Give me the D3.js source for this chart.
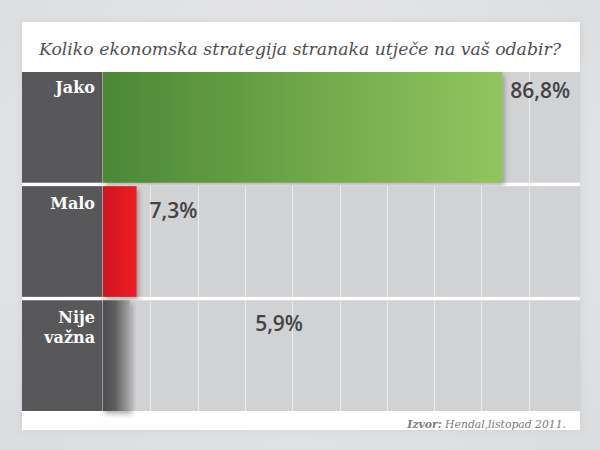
<!DOCTYPE html>
<html>
<head>
<meta charset="utf-8">
<script src="https://cdn.jsdelivr.net/npm/d3@7"></script>
<style>
  body { margin: 0; background: #e4e5e6; }
  svg { display: block; }
</style>
</head>
<body>
<script>
// data
var categories = ["Jako", "Malo", "Nije važna"];
var values = [86.8, 7.3, 5.9];
var valueLabels = ["86,8%", "7,3%", "5,9%"];
var gridTicks = [1, 2, 3, 4, 5, 6, 7, 8, 9];
var title = "Koliko ekonomska strategija stranaka utječe na vaš odabir?";

// label nudges (layout only)
var labelDx = [8, 13, 125];
var labelDy = [26, 32, 31];

var svg = d3.select("body").append("svg")
  .attr("width", 600)
  .attr("height", 450);

var defs = svg.append("defs");

var bg = defs.append("radialGradient").attr("id", "bg")
  .attr("cx", "50%").attr("cy", "45%").attr("r", "70%");
bg.append("stop").attr("offset", "0%").attr("stop-color", "#eeeeef");
bg.append("stop").attr("offset", "100%").attr("stop-color", "#dcdddf");

var grads = [
  ["g0", [["0%", "#4b8834"], ["100%", "#92c55f"]]],
  ["g1", [["0%", "#cf161e"], ["100%", "#ee1d26"]]],
  ["g2", [["0%", "#4d4d4f"], ["45%", "#5f5f61"], ["100%", "#a9a9ab"]]]
];
grads.forEach(function(g){
  var lg = defs.append("linearGradient").attr("id", g[0])
    .attr("x1", "0%").attr("x2", "100%").attr("y1", "0%").attr("y2", "0%");
  g[1].forEach(function(s){
    lg.append("stop").attr("offset", s[0]).attr("stop-color", s[1]);
  });
});

var sh = defs.append("filter").attr("id", "shadow")
  .attr("x", "-10%").attr("y", "-10%").attr("width", "130%").attr("height", "130%");
sh.append("feDropShadow").attr("dx", 2).attr("dy", 3)
  .attr("stdDeviation", 2.5).attr("flood-color", "#000").attr("flood-opacity", 0.3);

var psh = defs.append("filter").attr("id", "pshadow")
  .attr("x", "-5%").attr("y", "-5%").attr("width", "110%").attr("height", "110%");
psh.append("feDropShadow").attr("dx", 0).attr("dy", 0)
  .attr("stdDeviation", 4).attr("flood-color", "#000").attr("flood-opacity", 0.08);

svg.append("rect").attr("width", 600).attr("height", 450).attr("fill", "url(#bg)");

// white panel
svg.append("rect")
  .attr("x", 22).attr("y", 22).attr("width", 558).attr("height", 408)
  .attr("fill", "#ffffff").attr("filter", "url(#pshadow)");

svg.append("text")
  .attr("x", 300).attr("y", 55)
  .attr("text-anchor", "middle")
  .style("font-family", "DejaVu Serif")
  .style("font-style", "italic")
  .style("font-size", "17.3px")
  .style("fill", "#4f4f51")
  .text(title);

var y = d3.scaleBand()
  .domain(categories)
  .range([72, 411])
  .paddingInner(0.03);

var x = d3.scaleLinear().domain([0, 100]).range([103, 563]);
var grid = d3.scaleLinear().domain([0, 10]).range([103, 576]);

var rows = svg.selectAll(".row")
  .data(categories)
  .enter().append("g")
  .attr("class", "row")
  .attr("transform", function(d){ return "translate(0," + y(d) + ")"; });

// gray track
rows.append("rect")
  .attr("x", 102).attr("width", 478)
  .attr("height", y.bandwidth())
  .attr("fill", "#d1d2d4");

// grid lines
rows.selectAll(".grid")
  .data(gridTicks)
  .enter().append("line")
  .attr("class", "grid")
  .attr("x1", function(t){ return Math.round(grid(t)) + 0.5; })
  .attr("x2", function(t){ return Math.round(grid(t)) + 0.5; })
  .attr("y1", 0).attr("y2", y.bandwidth())
  .attr("stroke", "#ececed").attr("stroke-width", 1);

// dark label column
rows.append("rect")
  .attr("x", 22).attr("width", 80)
  .attr("height", y.bandwidth())
  .attr("fill", "#58585a");

rows.append("line")
  .attr("x1", 102.5).attr("x2", 102.5)
  .attr("y1", 0).attr("y2", y.bandwidth())
  .attr("stroke", "#a9a9ab");

// bars
rows.append("rect")
  .attr("x", x(0))
  .attr("width", function(d, i){ return x(values[i]) - x(0); })
  .attr("height", y.bandwidth())
  .attr("fill", function(d, i){ return "url(#g" + i + ")"; })
  .attr("filter", "url(#shadow)");

// category labels
rows.append("text")
  .attr("text-anchor", "end")
  .style("font-family", "DejaVu Serif")
  .style("font-weight", "bold")
  .style("font-size", "16px")
  .style("fill", "#ffffff")
  .each(function(d, i){
    var words = d.split(" ");
    var t = d3.select(this);
    words.forEach(function(w, k){
      t.append("tspan")
        .attr("x", 95)
        .attr("y", (i === 0 ? 21 : 23) + k * 20)
        .text(w);
    });
  });

// value labels
rows.append("text")
  .attr("x", function(d, i){ return x(values[i]) + labelDx[i]; })
  .attr("y", function(d, i){ return labelDy[i]; })
  .style("font-family", "Open Sans")
  .style("font-weight", "600")
  .style("font-size", "21px")
  .style("fill", "#434345")
  .text(function(d, i){ return valueLabels[i]; });

// source
var src = svg.append("text")
  .attr("x", 566).attr("y", 428)
  .attr("text-anchor", "end")
  .style("font-family", "DejaVu Serif")
  .style("font-style", "italic")
  .style("font-size", "10.8px")
  .style("fill", "#7b7b7d");
src.append("tspan").style("font-weight", "bold").text("Izvor:");
src.append("tspan").text(" Hendal,listopad 2011.");
</script>
</body>
</html>
